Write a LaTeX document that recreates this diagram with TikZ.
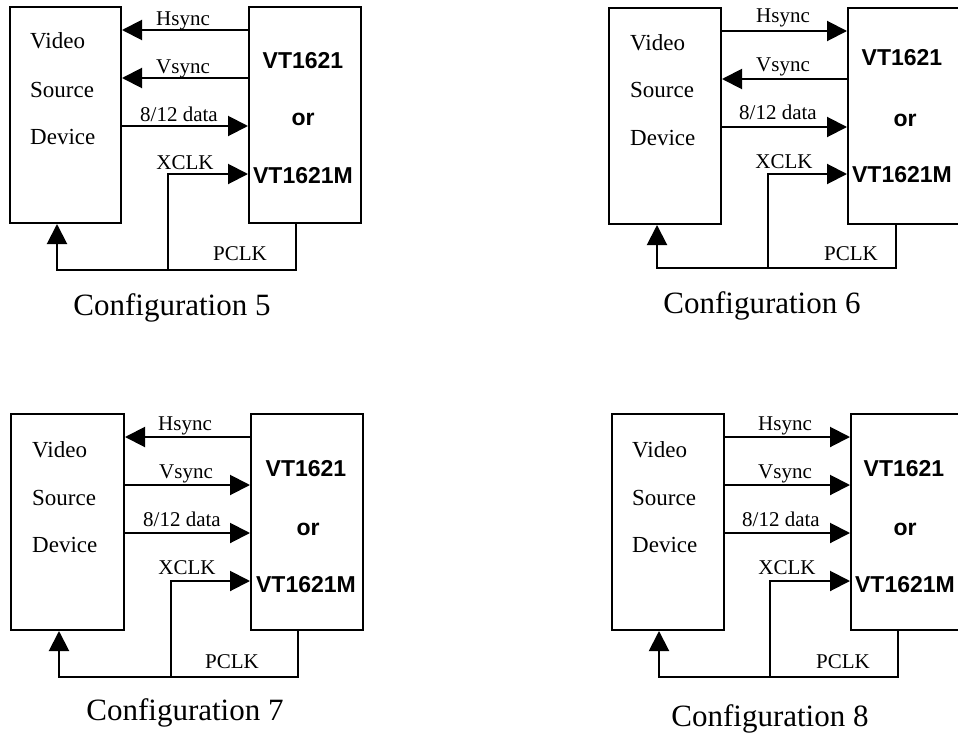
\documentclass[tikz,border=0pt]{standalone}
\usepackage{fontspec}
\setmainfont{Liberation Serif}
\newfontfamily\arialfont{Liberation Sans}
\usetikzlibrary{arrows.meta}
\tikzset{
  box/.style={draw, line width=2pt, inner sep=0pt, anchor=north west, minimum height=216pt},
  sig/.style={line width=2pt, -{Triangle[length=20pt,width=20pt]}},
  wire/.style={line width=2pt},
  lbl/.style={font=\fontsize{21}{21}\selectfont, anchor=base, inner sep=0pt},
  srctxt/.style={font=\fontsize{23}{23}\selectfont, anchor=base west, inner sep=0pt},
  vttxt/.style={font=\arialfont\bfseries\fontsize{23}{23}\selectfont, anchor=base, inner sep=0pt},
  captxt/.style={font=\fontsize{31}{31}\selectfont, anchor=base, inner sep=0pt}
}
\begin{document}
\begin{tikzpicture}[x=1pt,y=-1pt]
\useasboundingbox (0,0) rectangle (958,736);

% ---------------- Configuration 5 ----------------
\node[box, minimum width=111pt] (s5) at (9,6) {};
\node[box, minimum width=112pt] (v5) at (248,6) {};
\node[srctxt] (s5a) at (30,48) {Video};
\node[srctxt] (s5b) at (30,97) {Source};
\node[srctxt] (s5c) at (30,144) {Device};
\node[vttxt] (v5a) at (303,68) {VT1621};
\node[vttxt] (v5b) at (303,125) {or};
\node[vttxt] (v5c) at (303,183) {VT1621M};
\draw[sig] (v5.west |- 0,30) -- (s5.east |- 0,30);
\draw[sig] (v5.west |- 0,78) -- (s5.east |- 0,78);
\draw[sig] (s5.east |- 0,126) -- (v5.west |- 0,126);
\coordinate (j5) at (168,270);
\draw[sig] (v5.south -| 296,0) |- (j5) -| (s5.south -| 57,0);
\draw[sig] (j5) |- (v5.west |- 0,174);
\node[lbl] (h5) at (183,25) {Hsync};
\node[lbl] (w5) at (183,73) {Vsync};
\node[lbl] (d5) at (179,121) {8/12 data};
\node[lbl] (x5) at (185,169) {XCLK};
\node[lbl] (p5) at (240,260) {PCLK};
\node[captxt] (c5) at (172,315) {Configuration 5};

% ---------------- Configuration 6 ----------------
\node[box, minimum width=112pt] (s6) at (608,7) {};
\node[box, minimum width=116pt] (v6) at (847,7) {};
\node[srctxt] (s6a) at (630,50) {Video};
\node[srctxt] (s6b) at (630,97) {Source};
\node[srctxt] (s6c) at (630,145) {Device};
\node[vttxt] (v6a) at (902,65) {VT1621};
\node[vttxt] (v6b) at (905,126) {or};
\node[vttxt] (v6c) at (902,182) {VT1621M};
\draw[sig] (s6.east |- 0,31) -- (v6.west |- 0,31);
\draw[sig] (v6.west |- 0,79) -- (s6.east |- 0,79);
\draw[sig] (s6.east |- 0,127) -- (v6.west |- 0,127);
\coordinate (j6) at (768,268);
\draw[sig] (v6.south -| 896,0) |- (j6) -| (s6.south -| 657,0);
\draw[sig] (j6) |- (v6.west |- 0,174);
\node[lbl] (h6) at (783,23) {Hsync};
\node[lbl] (w6) at (783,71) {Vsync};
\node[lbl] (d6) at (778,119) {8/12 data};
\node[lbl] (x6) at (784,168) {XCLK};
\node[lbl] (p6) at (851,260) {PCLK};
\node[captxt] (c6) at (762,313) {Configuration 6};

% ---------------- Configuration 7 ----------------
\node[box, minimum width=113pt] (s7) at (10,413) {};
\node[box, minimum width=112pt] (v7) at (250,413) {};
\node[srctxt] (s7a) at (32,457) {Video};
\node[srctxt] (s7b) at (32,505) {Source};
\node[srctxt] (s7c) at (32,552) {Device};
\node[vttxt] (v7a) at (306,476) {VT1621};
\node[vttxt] (v7b) at (308,535) {or};
\node[vttxt] (v7c) at (306,592) {VT1621M};
\draw[sig] (v7.west |- 0,437) -- (s7.east |- 0,437);
\draw[sig] (s7.east |- 0,485) -- (v7.west |- 0,485);
\draw[sig] (s7.east |- 0,533) -- (v7.west |- 0,533);
\coordinate (j7) at (171,677);
\draw[sig] (v7.south -| 298,0) |- (j7) -| (s7.south -| 59,0);
\draw[sig] (j7) |- (v7.west |- 0,581);
\node[lbl] (h7) at (185,430) {Hsync};
\node[lbl] (w7) at (186,478) {Vsync};
\node[lbl] (d7) at (182,526) {8/12 data};
\node[lbl] (x7) at (187,574) {XCLK};
\node[lbl] (p7) at (232,668) {PCLK};
\node[captxt] (c7) at (185,720) {Configuration 7};

% ---------------- Configuration 8 ----------------
\node[box, minimum width=112pt] (s8) at (611,413) {};
\node[box, minimum width=113pt] (v8) at (850,413) {};
\node[srctxt] (s8a) at (632,457) {Video};
\node[srctxt] (s8b) at (632,505) {Source};
\node[srctxt] (s8c) at (632,552) {Device};
\node[vttxt] (v8a) at (904,476) {VT1621};
\node[vttxt] (v8b) at (905,535) {or};
\node[vttxt] (v8c) at (905,592) {VT1621M};
\draw[sig] (s8.east |- 0,437) -- (v8.west |- 0,437);
\draw[sig] (s8.east |- 0,485) -- (v8.west |- 0,485);
\draw[sig] (s8.east |- 0,533) -- (v8.west |- 0,533);
\coordinate (j8) at (770,677);
\draw[sig] (v8.south -| 898,0) |- (j8) -| (s8.south -| 659,0);
\draw[sig] (j8) |- (v8.west |- 0,581);
\node[lbl] (h8) at (785,430) {Hsync};
\node[lbl] (w8) at (785,478) {Vsync};
\node[lbl] (d8) at (781,526) {8/12 data};
\node[lbl] (x8) at (787,574) {XCLK};
\node[lbl] (p8) at (843,668) {PCLK};
\node[captxt] (c8) at (770,726) {Configuration 8};
\end{tikzpicture}
\end{document}
